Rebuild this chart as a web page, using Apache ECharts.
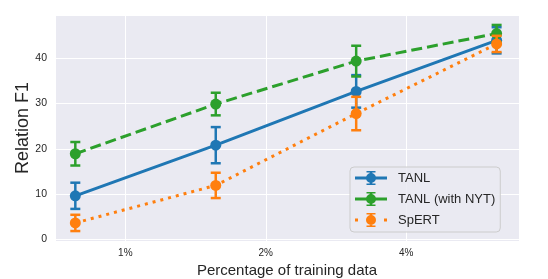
<!DOCTYPE html>
<html>
<head>
<meta charset="utf-8">
<script src="https://cdn.jsdelivr.net/npm/echarts@6/dist/echarts.min.js"></script>
<style>
html,body{margin:0;padding:0;background:#fff;}
#chart{width:548px;height:279px;}
</style>
</head>
<body>
<div id="chart"></div>
<script>
// Data
const xPercent = [0.78125, 1.5625, 3.125, 6.25];
const seriesNames = ['TANL', 'TANL (with NYT)', 'SpERT'];
const tanlF1 = [9.6, 20.8, 32.7, 44.0];
const tanlErr = [2.9, 4.0, 3.6, 2.9];
const nytF1 = [18.9, 29.9, 39.4, 45.5];
const nytErr = [2.6, 2.5, 3.4, 1.9];
const spertF1 = [3.6, 11.9, 27.8, 43.2];
const spertErr = [1.8, 2.8, 3.7, 1.8];

const colors = ['#1f77b4', '#2ca02c', '#ff7f0e'];
const means = [tanlF1, nytF1, spertF1];
const errs = [tanlErr, nytErr, spertErr];
const lineTypes = ['solid', [11, 5], [3, 5]];
const FONT = '"Liberation Sans", Arial, sans-serif';

const bar = 'M14.75 0 H17.25 V14 H14.75 Z M11.5 0 H20.5 V1.6 H11.5 Z M11.5 12.4 H20.5 V14 H11.5 Z M11 7 A5 5 0 1 1 21 7 A5 5 0 1 1 11 7 Z';
const icons = [
  'path://M0 5.5 H32 V8.5 H0 Z ' + bar,
  'path://M0 5.5 H32 V8.5 H0 Z ' + bar,
  'path://M0 5.5 H3 V8.5 H0 Z M29 5.5 H32 V8.5 H29 Z ' + bar
];

const series = [];
seriesNames.forEach((name, i) => {
  const c = colors[i];
  series.push({
    name: name + ' err',
    type: 'custom',
    z: 2 + i * 2,
    silent: true,
    encode: {x: 0, y: [1, 2]},
    data: xPercent.map((x, k) => [x, means[i][k] - errs[i][k], means[i][k] + errs[i][k]]),
    renderItem: function (params, api) {
      const x = api.value(0);
      const lo = api.coord([x, api.value(1)]);
      const hi = api.coord([x, api.value(2)]);
      const cw = 5;
      const st = {stroke: c, lineWidth: 2.5, fill: null};
      return {
        type: 'group',
        children: [
          {type: 'line', shape: {x1: lo[0], y1: lo[1], x2: hi[0], y2: hi[1]}, style: st},
          {type: 'line', shape: {x1: lo[0] - cw, y1: lo[1], x2: lo[0] + cw, y2: lo[1]}, style: st},
          {type: 'line', shape: {x1: hi[0] - cw, y1: hi[1], x2: hi[0] + cw, y2: hi[1]}, style: st}
        ]
      };
    }
  });
  series.push({
    name: name,
    type: 'line',
    z: 3 + i * 2,
    data: xPercent.map((x, k) => [x, means[i][k]]),
    symbol: 'circle',
    symbolSize: 11,
    showSymbol: true,
    color: c,
    itemStyle: {color: c, borderWidth: 0},
    lineStyle: {color: c, width: 3, type: lineTypes[i], cap: 'butt'},
    emphasis: {disabled: true},
    animation: false
  });
});

const chart = echarts.init(document.getElementById('chart'), null, {renderer: 'canvas'});
chart.setOption({
  animation: false,
  backgroundColor: '#ffffff',
  grid: {
    left: 55, right: 29, top: 15, bottom: 38,
    outerBoundsMode: 'none',
    containLabel: false,
    show: true, backgroundColor: '#EAEAF2', borderWidth: 0
  },
  xAxis: {
    type: 'log',
    logBase: 2,
    min: 0.7067,
    max: 6.98,
    name: 'Percentage of training data',
    nameLocation: 'middle',
    nameGap: 21,
    nameTextStyle: {fontFamily: FONT, fontSize: 15, color: '#262626'},
    axisLine: {show: false},
    axisTick: {show: false},
    splitLine: {show: true, lineStyle: {color: '#ffffff', width: 1}},
    axisLabel: {
      fontFamily: FONT, fontSize: 10, color: '#262626', margin: 7,
      showMinLabel: false, showMaxLabel: false,
      formatter: v => v + '%'
    }
  },
  yAxis: {
    type: 'value',
    min: -0.4,
    max: 49.6,
    name: 'Relation F1',
    nameLocation: 'middle',
    nameGap: 23,
    nameMoveOverlap: false,
    nameTextStyle: {fontFamily: FONT, fontSize: 18, color: '#262626'},
    axisLine: {show: false},
    axisTick: {show: false},
    splitLine: {show: true, lineStyle: {color: '#ffffff', width: 1}},
    axisLabel: {
      fontFamily: FONT, fontSize: 10.5, color: '#262626', margin: 8,
      showMinLabel: false, showMaxLabel: false
    }
  },
  legend: {
    orient: 'vertical',
    left: 350,
    top: 167,
    padding: [4, 5, 5, 5],
    itemWidth: 32,
    itemHeight: 14,
    itemGap: 7,
    backgroundColor: 'rgba(234,234,242,0.85)',
    borderColor: '#CCCCCC',
    borderWidth: 1,
    borderRadius: 4,
    selectedMode: false,
    itemStyle: {borderWidth: 0},
    textStyle: {fontFamily: FONT, fontSize: 13, color: '#262626', padding: [0, 0, 0, 6]},
    data: seriesNames.map((n, i) => ({name: n, icon: icons[i]}))
  },
  series: series
});
</script>
</body>
</html>
